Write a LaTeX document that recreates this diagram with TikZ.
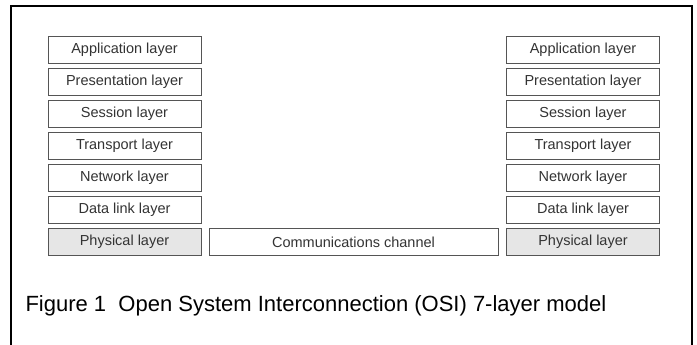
\documentclass[tikz,border=0pt]{standalone}
\usepackage{fontspec}
\setsansfont{Liberation Sans}
\usepackage{tikz}
\usetikzlibrary{positioning}
\definecolor{osiInk}{HTML}{333333}
\definecolor{osiLine}{HTML}{555555}
\definecolor{osiFill}{HTML}{E6E6E6}
\tikzset{
  osi diagram/.style={x=1pt, y=-1pt, font=\sffamily, text=osiInk},
  osi box/.style={draw=osiLine, fill=white, line width=1pt,
    minimum width=153pt, minimum height=26.5pt, inner sep=0pt,
    font=\fontsize{14.5}{16}\selectfont\sffamily},
  osi phys box/.style={osi box, fill=osiFill},
  osi frame/.style={draw=black, line width=2pt},
  osi caption/.style={font=\fontsize{22}{24}\selectfont\sffamily, text=black}
}

\begin{document}
\begin{tikzpicture}[osi diagram]
\useasboundingbox (0,0) rectangle (697,345);
\draw[osi frame] (11,345) -- (11,6) -- (692,6) -- (692,345);
% the two layer stacks
\foreach \side/\cx in {L/124.5,R/583} {
  \node[osi box] (\side-app) at (\cx,50) {Application layer};
  \node[osi box,below=4.5pt of \side-app] (\side-pres) {Presentation layer};
  \node[osi box,below=4.5pt of \side-pres] (\side-sess) {Session layer};
  \node[osi box,below=4.5pt of \side-sess] (\side-trans) {Transport layer};
  \node[osi box,below=4.5pt of \side-trans] (\side-net) {Network layer};
  \node[osi box,below=4.5pt of \side-net] (\side-dlink) {Data link layer};
  \node[osi phys box,below=4.5pt of \side-dlink] (\side-phys) {Physical layer};
}
\node[osi box,minimum width=289pt,right=7pt of L-phys] (channel) {Communications channel};
\node[osi caption,anchor=base west] (caption) at (22,311)
  {Figure 1\ \ Open System Interconnection (OSI) 7-layer model};
\end{tikzpicture}
\end{document}
